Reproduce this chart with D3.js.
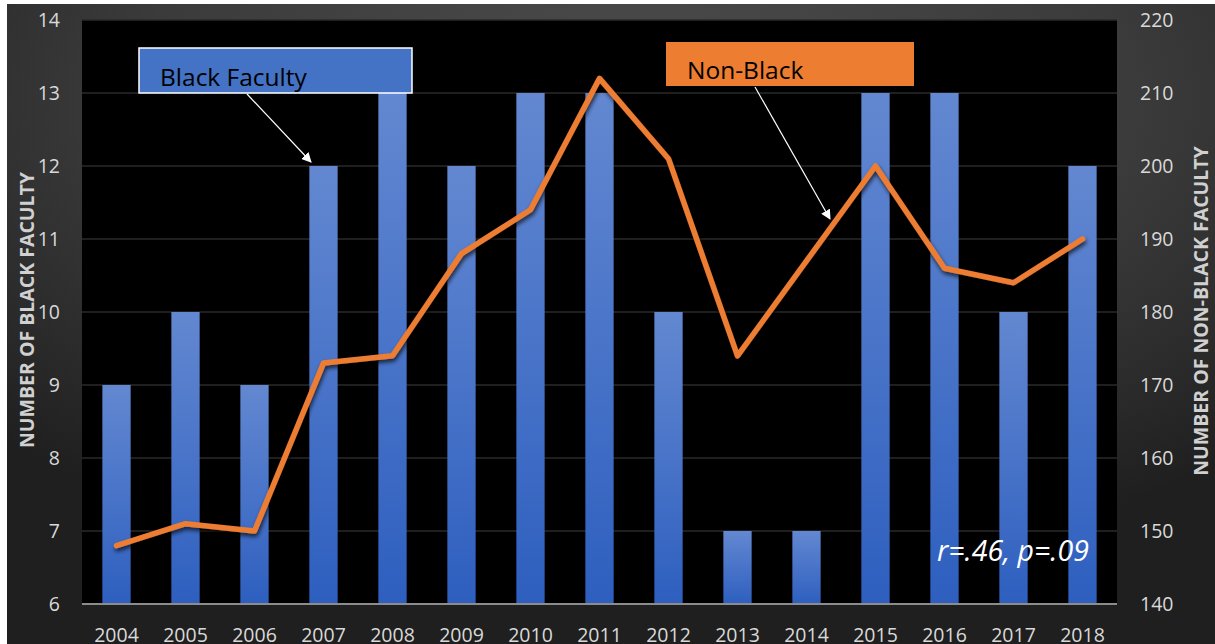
<!DOCTYPE html>
<html>
<head>
<meta charset="utf-8">
<script src="https://cdn.jsdelivr.net/npm/d3@7"></script>
<style>
  body { margin: 0; background: #fff; }
  svg { display: block; }
  text { font-family: "Open Sans", "Noto Sans", sans-serif; }
</style>
</head>
<body>
<div id="chart"></div>
<script>
// data
var years = ["2004","2005","2006","2007","2008","2009","2010","2011","2012","2013","2014","2015","2016","2017","2018"];
var blackFaculty = [9, 10, 9, 12, 13, 12, 13, 13, 10, 7, 7, 13, 13, 10, 12];
var nonBlack = [148, 151, 150, 173, 174, 188, 194, 212, 201, 174, 187, 200, 186, 184, 190];
var leftTicks = [6, 7, 8, 9, 10, 11, 12, 13, 14];
var rightTicks = [140, 150, 160, 170, 180, 190, 200, 210, 220];

var W = 1215, H = 644;
var margin = {top: 20, right: 98, bottom: 40, left: 82};

var svg = d3.select("#chart").append("svg")
	.attr("width", W)
	.attr("height", H);

var defs = svg.append("defs");

var bg = defs.append("radialGradient").attr("id", "bgGrad")
	.attr("cx", "52%").attr("cy", "15%").attr("r", "75%");
bg.append("stop").attr("offset", "0%").attr("stop-color", "#4d4d4d");
bg.append("stop").attr("offset", "55%").attr("stop-color", "#3b3b3b");
bg.append("stop").attr("offset", "100%").attr("stop-color", "#1f1f1f");

var barGrad = defs.append("linearGradient").attr("id", "barGrad")
	.attr("x1", 0).attr("y1", 0).attr("x2", 0).attr("y2", 1);
barGrad.append("stop").attr("offset", "0%").attr("stop-color", "#6388d1");
barGrad.append("stop").attr("offset", "100%").attr("stop-color", "#2e5fbf");

var shadow = defs.append("filter").attr("id", "shadow")
	.attr("x", "-5%").attr("y", "-5%").attr("width", "110%").attr("height", "120%");
shadow.append("feDropShadow").attr("dx", 1).attr("dy", 3).attr("stdDeviation", 2)
	.attr("flood-color", "#000").attr("flood-opacity", 0.7);

var arrow = defs.append("marker").attr("id", "arrow")
	.attr("viewBox", "0 0 10 10").attr("refX", 9).attr("refY", 5)
	.attr("markerWidth", 10).attr("markerHeight", 10)
	.attr("orient", "auto").attr("markerUnits", "userSpaceOnUse");
arrow.append("path").attr("d", "M0,0 L10,5 L0,10 z").attr("fill", "#fff");

// dark panel
svg.append("rect")
	.attr("x", 7).attr("y", 4)
	.attr("width", W - 7).attr("height", H - 4)
	.attr("fill", "url(#bgGrad)");

var w = W - margin.left - margin.right,
	h = H - margin.top - margin.bottom;

var g = svg.append("g")
	.attr("transform", "translate(" + margin.left + "," + margin.top + ")");

g.append("rect").attr("width", w).attr("height", h).attr("fill", "#000");

var xScale = d3.scaleBand().domain(years).range([0, w]).padding(0);
var yLeft = d3.scaleLinear().domain([6, 14]).range([h, 0]);
var yRight = d3.scaleLinear().domain([140, 220]).range([h, 0]);

// gridlines
g.append("g").selectAll("line")
	.data(leftTicks.slice(1))
	.enter().append("line")
	.attr("x1", 0).attr("x2", w)
	.attr("y1", function(d){ return yLeft(d); })
	.attr("y2", function(d){ return yLeft(d); })
	.attr("stroke", "#2a2a2a").attr("stroke-width", 1.5);

// bars
var barW = xScale.bandwidth() * 0.41;
g.selectAll("rect.bar")
	.data(blackFaculty)
	.enter().append("rect")
	.attr("class", "bar")
	.attr("x", function(d, i){ return xScale(years[i]) + (xScale.bandwidth() - barW) / 2; })
	.attr("y", function(d){ return yLeft(d); })
	.attr("width", barW)
	.attr("height", function(d){ return h - yLeft(d); })
	.attr("fill", "url(#barGrad)");

// bottom axis line
g.append("line").attr("x1", 0).attr("x2", w).attr("y1", h).attr("y2", h)
	.attr("stroke", "#8c8c8c").attr("stroke-width", 2);

// non-black line
var line = d3.line()
	.x(function(d, i){ return xScale(years[i]) + xScale.bandwidth() / 2; })
	.y(function(d){ return yRight(d); });

g.append("path")
	.datum(nonBlack)
	.attr("d", line)
	.attr("fill", "none")
	.attr("stroke", "#ed7d31")
	.attr("stroke-width", 5.5)
	.attr("stroke-linejoin", "round")
	.attr("stroke-linecap", "round")
	.attr("filter", "url(#shadow)");

// axes
var tickColor = "#d9d9d9";
var leftAxis = g.append("g")
	.call(d3.axisLeft(yLeft).tickValues(leftTicks).tickSize(0).tickPadding(22));
var rightAxis = g.append("g").attr("transform", "translate(" + w + ",0)")
	.call(d3.axisRight(yRight).tickValues(rightTicks).tickSize(0).tickPadding(23));
var bottomAxis = g.append("g").attr("transform", "translate(0," + h + ")")
	.call(d3.axisBottom(xScale).tickSize(0).tickPadding(24));

[leftAxis, rightAxis, bottomAxis].forEach(function(a){
	a.select(".domain").remove();
	a.selectAll("text").attr("fill", tickColor).style("font-size", "19.5px");
});
bottomAxis.selectAll("text").attr("dy", "0.71em");

// axis titles
svg.append("text")
	.attr("transform", "translate(34," + (margin.top + h / 2 - 2) + ") rotate(-90)")
	.attr("text-anchor", "middle")
	.attr("fill", "#d0d0d0")
	.style("font-size", "19.5px").style("font-weight", "bold")
	.text("NUMBER OF BLACK FACULTY");

svg.append("text")
	.attr("transform", "translate(1208," + (margin.top + h / 2 - 1) + ") rotate(-90)")
	.attr("text-anchor", "middle")
	.attr("fill", "#d0d0d0")
	.style("font-size", "19.5px").style("font-weight", "bold")
	.text("NUMBER OF NON-BLACK FACULTY");

// annotation boxes
svg.append("rect")
	.attr("x", 139).attr("y", 48).attr("width", 273).attr("height", 45)
	.attr("fill", "#4472c4").attr("stroke", "#fff").attr("stroke-width", 1.5);
svg.append("text").attr("x", 160).attr("y", 86)
	.attr("fill", "#000").style("font-size", "24.5px")
	.text("Black Faculty");
svg.append("line")
	.attr("x1", 247).attr("y1", 94).attr("x2", 311).attr("y2", 162)
	.attr("stroke", "#fff").attr("stroke-width", 1.2)
	.attr("marker-end", "url(#arrow)");

svg.append("rect")
	.attr("x", 666).attr("y", 42).attr("width", 248).attr("height", 44)
	.attr("fill", "#ed7d31");
svg.append("text").attr("x", 687).attr("y", 79)
	.attr("fill", "#000").style("font-size", "24.5px")
	.text("Non-Black");
svg.append("line")
	.attr("x1", 755).attr("y1", 87).attr("x2", 830).attr("y2", 219)
	.attr("stroke", "#fff").attr("stroke-width", 1.2)
	.attr("marker-end", "url(#arrow)");

// correlation note
svg.append("text")
	.attr("x", 937).attr("y", 561)
	.attr("fill", "#fff")
	.style("font-size", "28.5px").style("font-style", "italic")
	.text("r=.46, p=.09");
</script>
</body>
</html>
